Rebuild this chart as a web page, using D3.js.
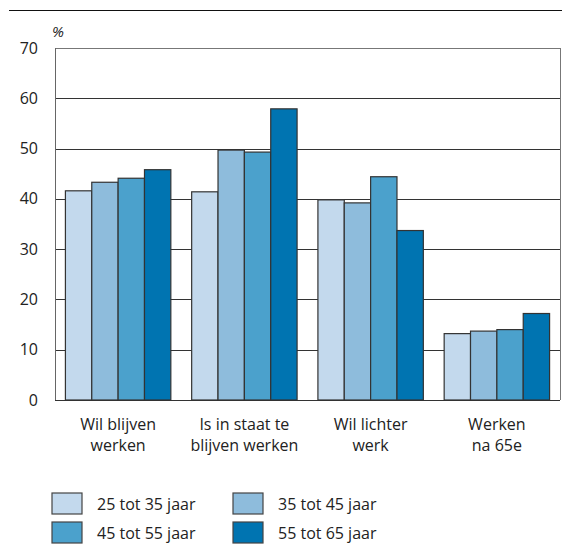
<!DOCTYPE html>
<html>
<head>
<meta charset="utf-8">
<script src="https://cdn.jsdelivr.net/npm/d3@7"></script>
<style>
body { margin: 0; background: #fff; }
text { font-family: "Open Sans", "Noto Sans", sans-serif; fill: #222; }
</style>
</head>
<body>
<script>
// Width and height
var w = 562;
var h = 547;

var categories = [["Wil blijven", "werken"], ["Is in staat te", "blijven werken"], ["Wil lichter", "werk"], ["Werken", "na 65e"]];
var groups = ["25 tot 35 jaar", "35 tot 45 jaar", "45 tot 55 jaar", "55 tot 65 jaar"];
var colors = ["#c3d9ed", "#8ebcdc", "#4ba1cc", "#0074b1"];

var age25 = [41.6, 41.4, 39.8, 13.2];
var age35 = [43.3, 49.7, 39.2, 13.7];
var age45 = [44.1, 49.3, 44.4, 14.0];
var age55 = [45.8, 57.9, 33.7, 17.2];
var series = [age25, age35, age45, age55];

var yTicks = [0, 10, 20, 30, 40, 50, 60, 70];

var plotLeft = 55, plotRight = 560, plotTop = 48, plotBottom = 400;

var svg = d3.select("body")
    .append("svg")
    .attr("width", w)
    .attr("height", h);

// top rule
svg.append("line")
    .attr("x1", 9).attr("x2", w)
    .attr("y1", 10.5).attr("y2", 10.5)
    .attr("stroke", "#111");

var x0 = d3.scaleBand()
    .domain(d3.range(categories.length))
    .range([plotLeft, plotRight])
    .paddingInner(0.165)
    .paddingOuter(0.0825);

var x1 = d3.scaleBand()
    .domain(d3.range(groups.length))
    .range([0, x0.bandwidth()]);

var y = d3.scaleLinear()
    .domain([0, 70])
    .range([plotBottom, plotTop]);

// gridlines
svg.append("g")
    .selectAll("line")
    .data(yTicks)
    .enter()
    .append("line")
    .attr("x1", plotLeft).attr("x2", plotRight)
    .attr("y1", d => Math.round(y(d)) + 0.5)
    .attr("y2", d => Math.round(y(d)) + 0.5)
    .attr("stroke", d => d === 70 ? "#777" : "#333")
    .attr("stroke-width", 1);

// frame sides
svg.append("line")
    .attr("x1", plotLeft + 0.5).attr("x2", plotLeft + 0.5)
    .attr("y1", y(70)).attr("y2", y(0))
    .attr("stroke", "#666");
svg.append("line")
    .attr("x1", plotRight + 0.5).attr("x2", plotRight + 0.5)
    .attr("y1", y(70)).attr("y2", y(0))
    .attr("stroke", "#777");

// y labels
svg.append("g")
    .selectAll("text")
    .data(yTicks)
    .enter()
    .append("text")
    .attr("x", 38)
    .attr("y", d => y(d) + 5.5)
    .attr("text-anchor", "end")
    .attr("font-size", "16px")
    .text(d => d);

svg.append("text")
    .attr("x", 52)
    .attr("y", 37)
    .attr("font-size", "15px")
    .attr("font-style", "italic")
    .text("%");

// bars
var cat = svg.append("g")
    .selectAll("g")
    .data(categories)
    .enter()
    .append("g")
    .attr("transform", (d, i) => "translate(" + x0(i) + ",0)");

cat.selectAll("rect")
    .data((d, i) => series.map((s, j) => ({ j: j, v: s[i] })))
    .enter()
    .append("rect")
    .attr("x", d => x1(d.j))
    .attr("y", d => y(d.v))
    .attr("width", x1.bandwidth())
    .attr("height", d => y(0) - y(d.v))
    .attr("fill", d => colors[d.j])
    .attr("stroke", "#333")
    .attr("stroke-width", 1.2);

// category labels
cat.each(function(d) {
    var t = d3.select(this).append("text")
        .attr("text-anchor", "middle")
        .attr("font-size", "16px");
    d.forEach(function(line, k) {
        t.append("tspan")
            .attr("x", x0.bandwidth() / 2)
            .attr("y", 430 + k * 21)
            .text(line);
    });
});

// legend
var legend = svg.append("g")
    .selectAll("g")
    .data(groups)
    .enter()
    .append("g")
    .attr("transform", (d, i) => "translate(" + (52 + (i % 2) * 181) + "," + (493 + Math.floor(i / 2) * 29) + ")");

legend.append("rect")
    .attr("width", 30)
    .attr("height", 21)
    .attr("fill", (d, i) => colors[i])
    .attr("stroke", "#444")
    .attr("stroke-width", 1.2);

legend.append("text")
    .attr("x", 45)
    .attr("y", 17)
    .attr("font-size", "16px")
    .text(d => d);
</script>
</body>
</html>
